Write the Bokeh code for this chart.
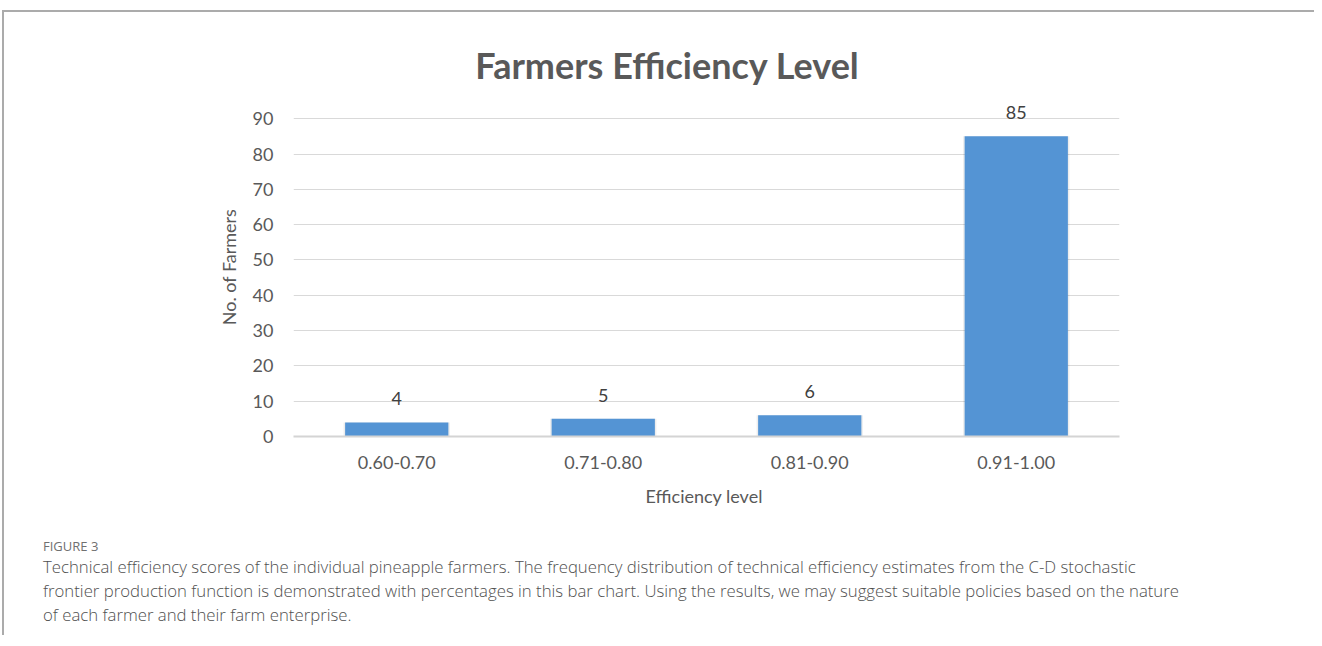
from bokeh.plotting import figure
from bokeh.models import (ColumnDataSource, FactorRange, Range1d, FixedTicker,
                          LabelSet, Div)
from bokeh.core.properties import value
from bokeh.layouts import column
from bokeh.embed import file_html
from bokeh.resources import INLINE

# ---- data ----
categories = ["0.60-0.70", "0.71-0.80", "0.81-0.90", "0.91-1.00"]
farmers = [4, 5, 6, 85]
y_ticks = [0, 10, 20, 30, 40, 50, 60, 70, 80, 90]
title_text = "Farmers Efficiency Level"
x_label = "Efficiency  level"
y_label = "No. of Farmers"
fig_label = "FIGURE 3"
caption_text = ("Technical efficiency scores of the individual pineapple farmers. The frequency "
                "distribution of technical efficiency estimates from the C-D stochastic frontier "
                "production function is demonstrated with percentages in this bar chart. Using the "
                "results, we may suggest suitable policies based on the nature of each farmer and "
                "their farm enterprise.")

source = ColumnDataSource(dict(cat=categories, val=farmers, lab=[str(v) for v in farmers]))

CHART_FONT = "Lato"
TXT = "#595959"

p = figure(x_range=FactorRange(*categories, range_padding=0),
           y_range=Range1d(0, 96),
           width=1300, height=423,
           min_border_left=289, min_border_right=185,
           min_border_top=0, min_border_bottom=84,
           output_backend="svg", toolbar_location=None)
p.outline_line_color = None
p.background_fill_color = "white"
p.border_fill_color = "white"

# shadow + bars
p.vbar(x="cat", top="val", width=0.515, source=source, fill_color="#000000",
       fill_alpha=0.07, line_color=None)
p.vbar(x="cat", top="val", width=0.5, source=source, fill_color="#5494d4",
       line_color=None)

labels = LabelSet(x="cat", y="val", text="lab", source=source, y_offset=17,
                  text_align="center", text_baseline="bottom",
                  text_font=value(CHART_FONT), text_font_size=value("18px"),
                  text_color=value("#404040"))
p.add_layout(labels)

# grid
p.xgrid.grid_line_color = None
p.ygrid.grid_line_color = "#d9d9d9"
p.ygrid.grid_line_width = 1
p.yaxis.ticker = FixedTicker(ticks=y_ticks)

# axes
for ax in (p.xaxis, p.yaxis):
    ax.major_tick_line_color = None
    ax.minor_tick_line_color = None
    ax.major_tick_out = 0
    ax.major_tick_in = 0
    ax.major_label_text_font = CHART_FONT
    ax.major_label_text_font_size = "18px"
    ax.major_label_text_color = TXT
    ax.axis_label_text_font = CHART_FONT
    ax.axis_label_text_font_size = "18px"
    ax.axis_label_text_color = TXT
    ax.axis_label_text_font_style = "normal"

p.yaxis.axis_line_color = None
p.yaxis.major_label_standoff = 20
p.yaxis.axis_label = y_label
p.yaxis.axis_label_standoff = 10

p.xaxis.axis_line_color = "#d4d4d4"
p.xaxis.axis_line_width = 2
p.xaxis.major_label_standoff = 19
p.xaxis.axis_label = x_label
p.xaxis.axis_label_standoff = 13

title_div = Div(
    text=(f'<div style="width:1300px;height:75px;box-sizing:border-box;padding-top:28px;'
          f'padding-left:16px;text-align:center;font-family:{CHART_FONT};font-weight:bold;'
          f'font-size:36px;line-height:40px;color:{TXT};">{title_text}</div>'),
    width=1300, height=75)

caption_div = Div(
    text=('<div style="width:1300px;box-sizing:border-box;padding-left:34px;padding-right:120px;'
          'padding-top:12px;font-family:\'Open Sans\';">'
          f'<div style="font-size:13px;font-weight:500;color:#707070;line-height:18px;">{fig_label}</div>'
          f'<div style="font-size:16.75px;font-weight:300;color:#505050;line-height:24px;">{caption_text}</div>'
          '</div>'),
    width=1300, height=105)

layout = column(title_div, p, caption_div, spacing=0,
                styles={"border-top": "2px solid #ababab",
                        "border-left": "2px solid #ababab",
                        "margin-top": "10px", "margin-left": "2px"})

open("out.html", "w").write(file_html(layout, INLINE))
